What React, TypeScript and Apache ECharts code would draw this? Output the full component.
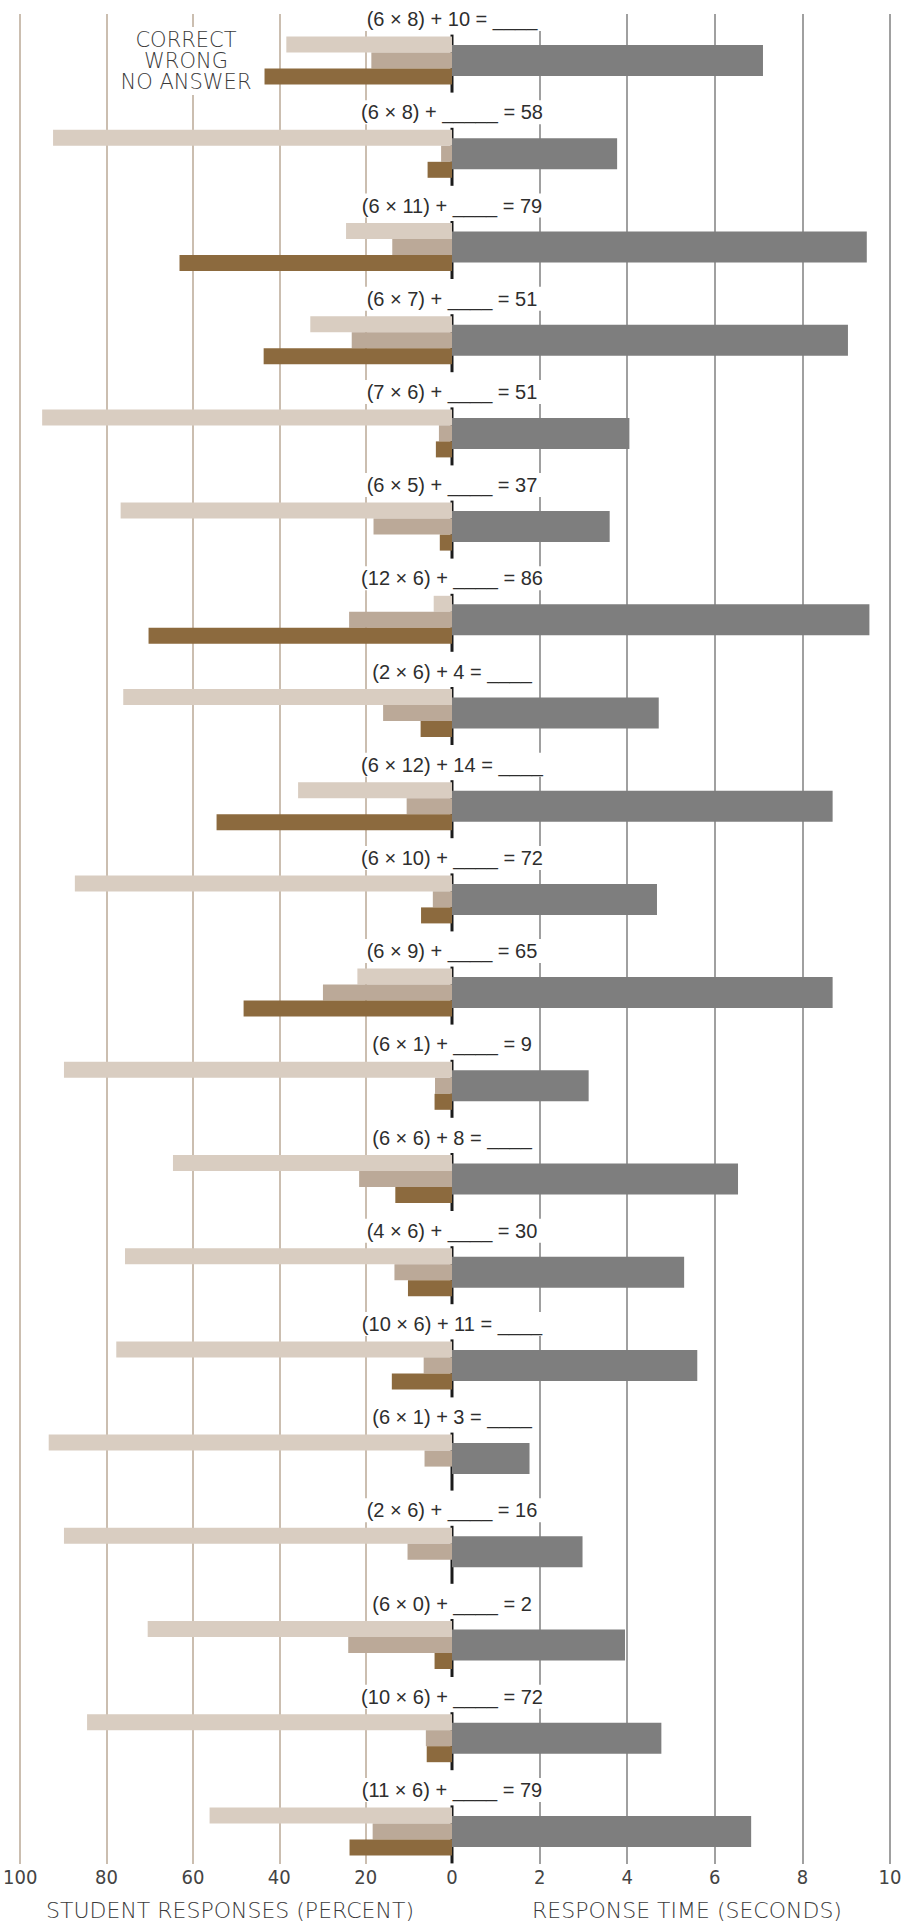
import React, { useEffect, useRef } from "react";
import * as echarts from "echarts";

const problems = [
  "(6 × 8) + 10 = ____",
  "(6 × 8) + _____ = 58",
  "(6 × 11) + ____ = 79",
  "(6 × 7) + ____ = 51",
  "(7 × 6) + ____ = 51",
  "(6 × 5) + ____ = 37",
  "(12 × 6) + ____ = 86",
  "(2 × 6) + 4 = ____",
  "(6 × 12) + 14 = ____",
  "(6 × 10) + ____ = 72",
  "(6 × 9) + ____ = 65",
  "(6 × 1) + ____ = 9",
  "(6 × 6) + 8 = ____",
  "(4 × 6) + ____ = 30",
  "(10 × 6) + 11 = ____",
  "(6 × 1) + 3 = ____",
  "(2 × 6) + ____ = 16",
  "(6 × 0) + ____ = 2",
  "(10 × 6) + ____ = 72",
  "(11 × 6) + ____ = 79",
];

// percent of students
const correctPct = [38, 91.5, 24.3, 32.5, 94, 76, 4.2, 75.4, 35.3, 86.5, 21.7, 89, 64, 75, 77, 92.5, 89, 69.8, 83.7, 55.6];
const wrongPct = [18.5, 2.5, 13.7, 23, 3, 18, 23.6, 15.8, 10.4, 4.4, 29.6, 3.9, 21.3, 13.2, 6.5, 6.3, 10.2, 23.8, 6, 18.2];
const noAnswerPct = [43, 5.6, 62.5, 43.2, 3.7, 2.8, 69.6, 7.2, 54, 7.1, 47.8, 4, 13, 10.1, 13.8, 0, 0, 4, 5.8, 23.5];
// seconds
const responseTime = [7.1, 3.77, 9.47, 9.04, 4.05, 3.6, 9.53, 4.72, 8.69, 4.68, 8.69, 3.12, 6.53, 5.3, 5.6, 1.77, 2.98, 3.95, 4.78, 6.83];

const legendLines = ["CORRECT", "WRONG", "NO ANSWER"];
const leftTitle = "STUDENT RESPONSES (PERCENT)";
const rightTitle = "RESPONSE TIME (SECONDS)";

const LIGHT = "'DejaVu Sans', 'Noto Sans', sans-serif";
const NARROW = "'Liberation Sans Narrow', 'DejaVu Sans Condensed', 'Liberation Sans', sans-serif";
const LABEL = "'Liberation Sans', Arial, Helvetica, sans-serif";

export default function App() {
  const ref = useRef<HTMLDivElement>(null);

  useEffect(() => {
    if (!ref.current) return;
    const chart = echarts.init(ref.current, null, { renderer: "svg" });

    const tickLabel = {
      fontFamily: NARROW,
      fontSize: 20,
      color: "#444444",
      margin: 3,
    };

    const option: any = {
      animation: false,
      backgroundColor: "#ffffff",
      grid: [
        { left: 16, width: 436, top: 14, height: 1850 },
        { left: 452, width: 438, top: 14, height: 1850 },
        { left: 16, width: 436, top: 14, height: 1864 },
        { left: 452, width: 438, top: 14, height: 1864 },
      ],
      xAxis: [
        {
          gridIndex: 0,
          type: "value",
          inverse: true,
          min: 0,
          max: 100,
          interval: 20,
          axisLine: { show: false },
          axisTick: { show: false },
          axisLabel: tickLabel,
          splitLine: {
            show: true,
            showMinLine: false,
            showMaxLine: true,
            lineStyle: { color: "#baa996", width: 1.5 },
          },
        },
        {
          gridIndex: 1,
          type: "value",
          min: 0,
          max: 10,
          interval: 2,
          axisLine: { show: false },
          axisTick: { show: false },
          axisLabel: { ...tickLabel, showMinLabel: false },
          splitLine: {
            show: true,
            showMinLine: false,
            showMaxLine: true,
            lineStyle: { color: "#808080", width: 1.5 },
          },
        },
        { gridIndex: 2, type: "value", inverse: true, min: 0, max: 100, show: false },
        { gridIndex: 3, type: "value", min: 0, max: 10, show: false },
      ],
      yAxis: [
        { gridIndex: 0, type: "value", min: 0, max: 1, show: false },
        { gridIndex: 1, type: "value", min: 0, max: 1, show: false },
        { gridIndex: 2, type: "category", data: problems, inverse: true, show: false },
        { gridIndex: 3, type: "category", data: problems, inverse: true, show: false },
      ],
      series: [
        {
          name: "CORRECT",
          type: "bar",
          xAxisIndex: 2,
          yAxisIndex: 2,
          data: correctPct,
          barWidth: 16,
          barGap: "0%",
          itemStyle: { color: "#d9cdc1" },
        },
        {
          name: "WRONG",
          type: "bar",
          xAxisIndex: 2,
          yAxisIndex: 2,
          data: wrongPct,
          barWidth: 16,
          barGap: "0%",
          itemStyle: { color: "#bba998" },
        },
        {
          name: "NO ANSWER",
          type: "bar",
          xAxisIndex: 2,
          yAxisIndex: 2,
          data: noAnswerPct,
          barWidth: 16,
          barGap: "0%",
          itemStyle: { color: "#8c6a3e" },
        },
        {
          name: "RESPONSE TIME",
          type: "bar",
          xAxisIndex: 3,
          yAxisIndex: 3,
          data: responseTime,
          barWidth: 31,
          itemStyle: { color: "#7e7e7e" },
        },
        {
          name: "problems",
          type: "custom",
          xAxisIndex: 3,
          yAxisIndex: 3,
          encode: { x: 0, y: 1 },
          data: problems.map((_, i) => [0, i]),
          renderItem: (params: any, api: any) => {
            const p = api.coord([api.value(0), api.value(1)]);
            return {
              type: "group",
              children: [
                {
                  type: "rect",
                  shape: { x: p[0] - 1.5, y: p[1] - 26, width: 3, height: 58 },
                  style: { fill: "#1b1b1b" },
                },
                {
                  type: "text",
                  x: p[0],
                  y: p[1] - 41.5,
                  style: {
                    text: problems[params.dataIndex],
                    font: `20px ${LABEL}`,
                    fill: "#2e2e2e",
                    align: "center",
                    verticalAlign: "middle",
                    backgroundColor: "#ffffff",
                    padding: [2, 4],
                  },
                },
              ],
            };
          },
        },
      ],
      graphic: [
        {
          type: "rect",
          z: 10,
          shape: { x: 114, y: 27, width: 146, height: 68 },
          style: { fill: "#ffffff" },
        },
        {
          type: "text",
          z: 11,
          x: 186,
          y: 61,
          style: {
            text: legendLines.join("\n"),
            font: `200 21px ${LIGHT}`,
            fill: "#3a3a3a",
            align: "center",
            verticalAlign: "middle",
            lineHeight: 21,
          },
        },
        {
          type: "text",
          z: 11,
          x: 230,
          y: 1910,
          style: {
            text: leftTitle,
            font: `200 22px ${LIGHT}`,
            fill: "#3a3a3a",
            align: "center",
            verticalAlign: "middle",
          },
        },
        {
          type: "text",
          z: 11,
          x: 687,
          y: 1910,
          style: {
            text: rightTitle,
            font: `200 22px ${LIGHT}`,
            fill: "#3a3a3a",
            align: "center",
            verticalAlign: "middle",
          },
        },
      ],
    };

    chart.setOption(option);
    return () => chart.dispose();
  }, []);

  return (
    <div
      ref={ref}
      style={{ position: "absolute", left: 0, top: 0, width: 921, height: 1922, background: "#fff" }}
    />
  );
}
